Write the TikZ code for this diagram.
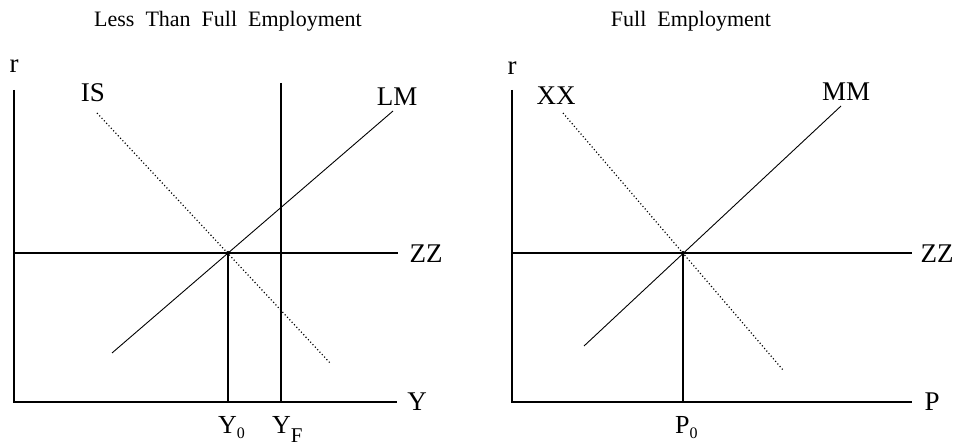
\documentclass[tikz,border=0pt]{standalone}
\usepackage{fontspec}
\setmainfont{Liberation Serif}
\newcommand{\lowsub}[3]{\raisebox{-#1pt}{\fontsize{#2}{#2}\selectfont #3}}
\begin{document}
\begin{tikzpicture}[x=1pt,y=-1pt,
  titletext/.style={font=\fontsize{22}{24}\selectfont, inner sep=0pt, anchor=base},
  lbl/.style={font=\fontsize{27}{29}\selectfont, inner sep=0pt},
  ticklbl/.style={font=\fontsize{26}{28}\selectfont, inner sep=0pt, anchor=base west},
  axis/.style={line width=1.4pt},
  curve/.style={line width=0.9pt},
  dotcurve/.style={line width=1.2pt, dash pattern=on 1.1pt off 2.3pt},
  eqdot/.style={circle, fill=black, inner sep=0pt, minimum size=4pt}]
\useasboundingbox (0,0) rectangle (958,446);

% ---------- Left panel ----------
\node[titletext] (t1) at (228,27) {Less\ \ Than\ \ Full\ \ Employment};
\coordinate (lt) at (14,90);
\coordinate (lo) at (14,402);
\coordinate (lx) at (397,402);
\draw[axis] (lt) -- (lo) -- (lx);
\node[lbl] (lr) at (14,66) {r};
\node[lbl] (lY) at (417,402) {Y};

\coordinate (lzz0) at (14,253);
\coordinate (lzz1) at (398,253);
\draw[axis] (lzz0) -- (lzz1);
\node[lbl] (lZZ) at (426,254) {ZZ};

\coordinate (le) at (228,253);
\coordinate (ly0) at (228,402);
\draw[axis] (le) -- (ly0);
\coordinate (lyf0) at (281,83);
\coordinate (lyf1) at (281,402);
\draw[axis] (lyf0) -- (lyf1);
\node[ticklbl] (lY0) at (218,433) {Y\lowsub{5}{16}{0}};
\node[ticklbl] (lYF) at (272,433) {Y\lowsub{9}{21}{F}};

\coordinate (lm0) at (112,353);
\coordinate (lm1) at (393,111);
\draw[curve] (lm0) -- (lm1);
\node[lbl] (lLM) at (397,97) {LM};

\coordinate (is0) at (97,113);
\coordinate (is1) at (331,364);
\draw[dotcurve] (is0) -- (is1);
\node[lbl] (lIS) at (93,93) {IS};

\node[eqdot] (ld) at (le) {};

% ---------- Right panel ----------
\node[titletext] (t2) at (691,27) {Full\ \ Employment};
\coordinate (rt) at (512,90);
\coordinate (ro) at (512,402);
\coordinate (rx) at (912,402);
\draw[axis] (rt) -- (ro) -- (rx);
\node[lbl] (rr) at (512,68) {r};
\node[lbl] (rP) at (932,402) {P};

\coordinate (rzz0) at (512,253);
\coordinate (rzz1) at (912,253);
\draw[axis] (rzz0) -- (rzz1);
\node[lbl] (rZZ) at (937,254) {ZZ};

\coordinate (re) at (683,253);
\coordinate (rp0) at (683,402);
\draw[axis] (re) -- (rp0);
\node[ticklbl] (rP0) at (675,433) {P\lowsub{5}{16}{0}};

\coordinate (mm0) at (584,346);
\coordinate (mm1) at (841,106);
\draw[curve] (mm0) -- (mm1);
\node[lbl] (rMM) at (846,92) {MM};

\coordinate (xx0) at (563,113);
\coordinate (xx1) at (783,370);
\draw[dotcurve] (xx0) -- (xx1);
\node[lbl] (rXX) at (556,96) {XX};

\node[eqdot] (rd) at (re) {};
\end{tikzpicture}
\end{document}
